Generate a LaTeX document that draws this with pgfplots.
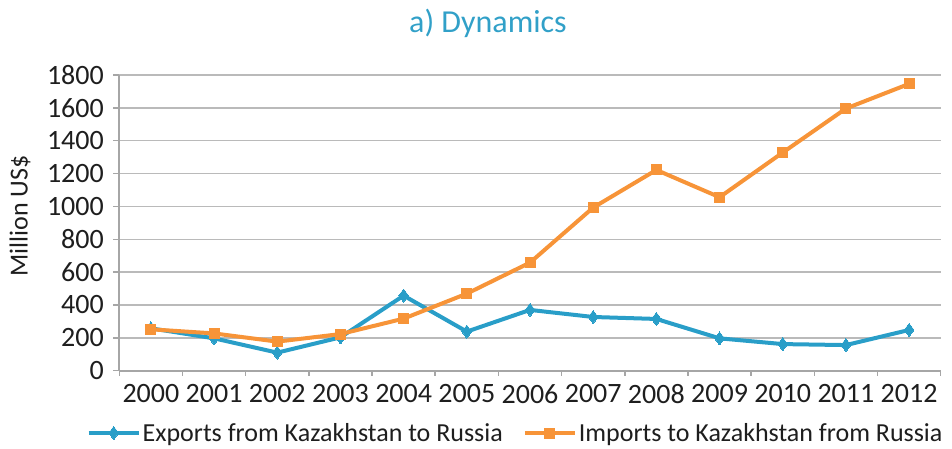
\documentclass[border=0pt]{standalone}
\usepackage{fontspec}
\setmainfont{Carlito}
\usepackage{pgfplots}
\pgfplotsset{compat=1.18}
\definecolor{expblue}{RGB}{41,158,200}
\definecolor{imporange}{RGB}{247,148,56}
\definecolor{titleblue}{RGB}{49,160,200}
\definecolor{gridgray}{RGB}{186,186,186}
\definecolor{axgray}{RGB}{166,166,166}
\definecolor{txt}{RGB}{30,30,30}
\begin{document}
\begin{tikzpicture}
\useasboundingbox (0,0) rectangle (952pt,448pt);
\node[anchor=base, text=titleblue, font=\fontsize{32}{36}\selectfont] at (488pt,415pt) {a) Dynamics};
\begin{axis}[
  at={(119.3pt,77.3pt)}, anchor=south west,
  width=821.4pt, height=295.7pt, scale only axis,
  xmin=-0.5, xmax=12.5, ymin=0, ymax=1800,
  axis lines*=left,
  axis line style={axgray, line width=2pt},
  xtick={0,...,12},
  xticklabels={2000,2001,2002,2003,2004,2005,2006,2007,2008,2009,2010,2011,2012},
  minor xtick={-0.5,0.5,...,12.5},
  ytick={0,200,...,1800},
  tick align=outside,
  major x tick style={draw=none},
  minor x tick style={axgray, line width=1.5pt},
  major y tick style={axgray, line width=1.5pt},
  major tick length=6pt, minor tick length=5pt,
  ymajorgrids,
  major grid style={gridgray, line width=1.5pt},
  /pgf/number format/assume math mode=true,
  /pgf/number format/1000 sep={},
  ticklabel style={font=\fontsize{28}{32}\selectfont, text=txt},
  xticklabel style={yshift=-4pt},
  yticklabel style={xshift=-6pt},
  ylabel={Million US\$},
  ylabel style={at={(axis description cs:-0.1209,0.523)}, anchor=center, font=\fontsize{26}{30}\selectfont, text=txt},
  legend columns=2,
  legend style={draw=none, fill=none, at={(axis description cs:0.4824,-0.2107)}, anchor=center,
    font=\fontsize{26}{29}\selectfont, text=txt, inner sep=0pt, outer sep=0pt,
    /tikz/every even column/.append style={column sep=18pt}},
  legend cell align=left,
  legend image code/.code={\draw[mark repeat=2,mark phase=2,#1] plot coordinates {(0pt,0pt)(25pt,0pt)(50pt,0pt)};},
]
\addplot[expblue, line width=4pt, mark=diamond*, mark size=6.5pt, mark options={solid, line width=0pt, fill=expblue}]
coordinates {(0,258)(1,197)(2,110)(3,203)(4,457)(5,238)(6,370)(7,327)(8,315)(9,197)(10,162)(11,156)(12,248)};
\addlegendentry{Exports from Kazakhstan to Russia}
\addplot[imporange, line width=4pt, mark=square*, mark size=5pt, mark options={solid, line width=0pt, fill=imporange}]
coordinates {(0,252)(1,227)(2,177)(3,223)(4,317)(5,469)(6,658)(7,993)(8,1222)(9,1056)(10,1328)(11,1596)(12,1746)};
\addlegendentry{Imports to Kazakhstan from Russia}
\end{axis}
\end{tikzpicture}
\end{document}
